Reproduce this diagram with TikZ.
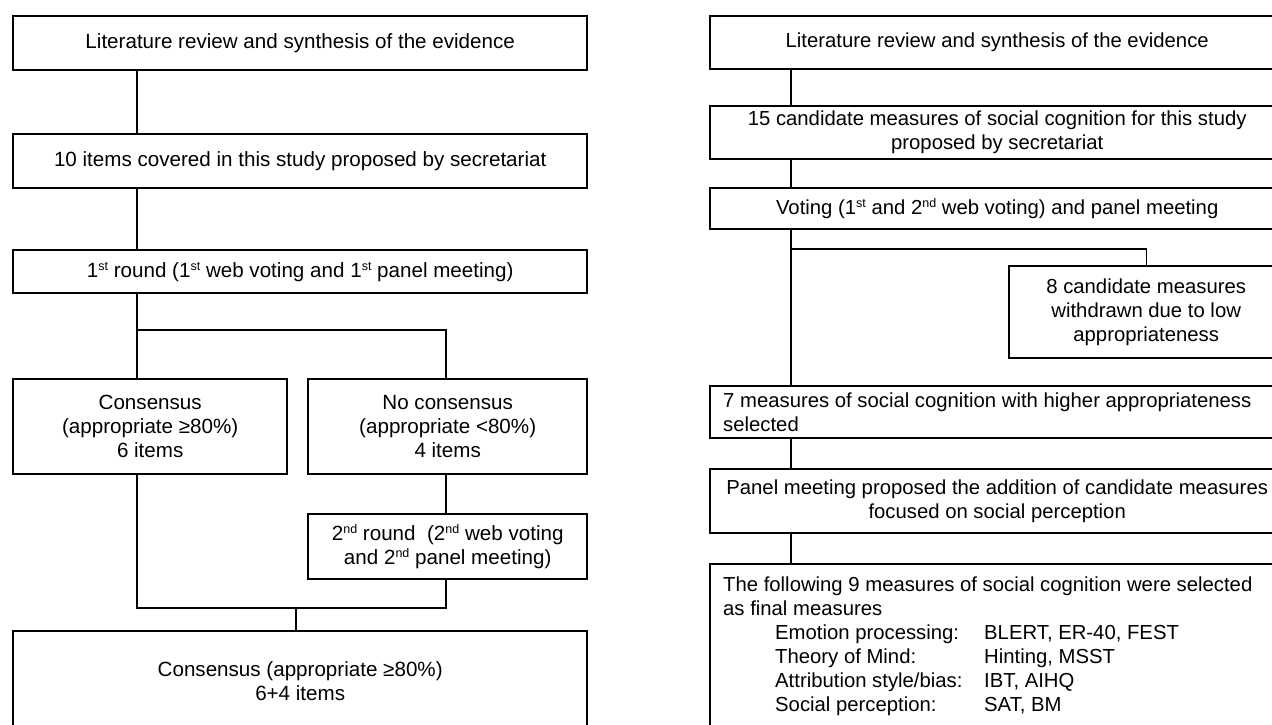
\documentclass[tikz,border=0pt]{standalone}
\usepackage{fontspec}
\setmainfont{Liberation Sans}
\newcommand{\sups}[1]{\raisebox{0.62ex}{\fontsize{12.5}{12.5}\selectfont #1}}
\begin{document}
\begin{tikzpicture}[x=1pt,y=-1pt,
  box/.style={draw, line width=2.4pt, inner sep=0pt, anchor=north west,
    font=\fontsize{20.6}{24}\selectfont, align=center},
  rbox/.style={box, font=\fontsize{20.3}{24}\selectfont},
  lbox/.style={rbox, align=flush left, inner xsep=13pt, text width=548pt},
  link/.style={draw, line width=1.3pt}]
\clip (0,0) rectangle (1272,725);
% ---------------- left flow ----------------
\node[box, minimum width=574pt, minimum height=54pt] (A) at (12,15)
  {Literature review and synthesis of the evidence};
\node[box, minimum width=574pt, minimum height=54pt] (B) at (12,133)
  {10 items covered in this study proposed by secretariat};
\node[box, minimum width=574pt, minimum height=43pt] (C) at (12,249)
  {1\sups{st} round (1\sups{st} web voting and 1\sups{st} panel meeting)};
\node[box, minimum width=274pt, minimum height=95pt] (cons) at (12,378)
  {Consensus\\(appropriate ≥80\%)\\6 items};
\node[box, minimum width=279pt, minimum height=95pt] (nocons) at (307,378)
  {No consensus\\(appropriate <80\%)\\4 items};
\node[box, minimum width=279pt, minimum height=65pt] (second) at (307,513)
  {2\sups{nd} round\ \ (2\sups{nd} web voting\\and 2\sups{nd} panel meeting)};
\node[box, minimum width=574pt, minimum height=100pt] (fin) at (12,630)
  {Consensus (appropriate ≥80\%)\\6+4 items};
\coordinate (lv) at (137,0);
\coordinate (nx) at (446,0);
\coordinate (split) at (137,330);
\coordinate (join) at (137,608);
\coordinate (jx) at (296,608);
\draw[link] (A.south -| lv) -- (B.north -| lv);
\draw[link] (B.south -| lv) -- (C.north -| lv);
\draw[link] (C.south -| lv) -- (cons.north -| lv);
\draw[link] (split) -| (nocons.north -| nx);
\draw[link] (nocons.south -| nx) -- (second.north -| nx);
\draw[link] (cons.south -| lv) -- (join) -| (second.south -| nx);
\draw[link] (jx) -- (fin.north -| jx);
% ---------------- right flow ----------------
\node[rbox, minimum width=574pt, minimum height=53pt] (R1) at (709,15)
  {Literature review and synthesis of the evidence};
\node[rbox, minimum width=574pt, minimum height=53pt] (R2) at (709,105)
  {15 candidate measures of social cognition for this study\\proposed by secretariat};
\node[rbox, minimum width=574pt, minimum height=41pt] (R3) at (709,187)
  {Voting (1\sups{st} and 2\sups{nd} web voting) and panel meeting};
\node[rbox, minimum width=274pt, minimum height=92pt] (W) at (1008,265)
  {8 candidate measures\\withdrawn due to low\\appropriateness};
\node[lbox, minimum height=52pt] (R4) at (709,385)
  {7 measures of social cognition with higher appropriateness\\selected};
\node[rbox, minimum width=574pt, minimum height=64pt] (R5) at (709,468)
  {Panel meeting proposed the addition of candidate measures\\focused on social perception};
\node[lbox, minimum height=165pt] (R6) at (709,563)
  {The following 9 measures of social cognition were selected\\
   as final measures\\
   \hspace*{52pt}\makebox[209pt][l]{Emotion processing:}BLERT, ER-40, FEST\\
   \hspace*{52pt}\makebox[209pt][l]{Theory of Mind:}Hinting, MSST\\
   \hspace*{52pt}\makebox[209pt][l]{Attribution style/bias:}IBT, AIHQ\\
   \hspace*{52pt}\makebox[209pt][l]{Social perception:}SAT, BM};
\coordinate (rv) at (791,0);
\coordinate (rsplit) at (791,249);
\draw[link] (R1.south -| rv) -- (R2.north -| rv);
\draw[link] (R2.south -| rv) -- (R3.north -| rv);
\draw[link] (R3.south -| rv) -- (R4.north -| rv);
\draw[link] (rsplit) -| (W.north);
\draw[link] (R4.south -| rv) -- (R5.north -| rv);
\draw[link] (R5.south -| rv) -- (R6.north -| rv);
\end{tikzpicture}
\end{document}
